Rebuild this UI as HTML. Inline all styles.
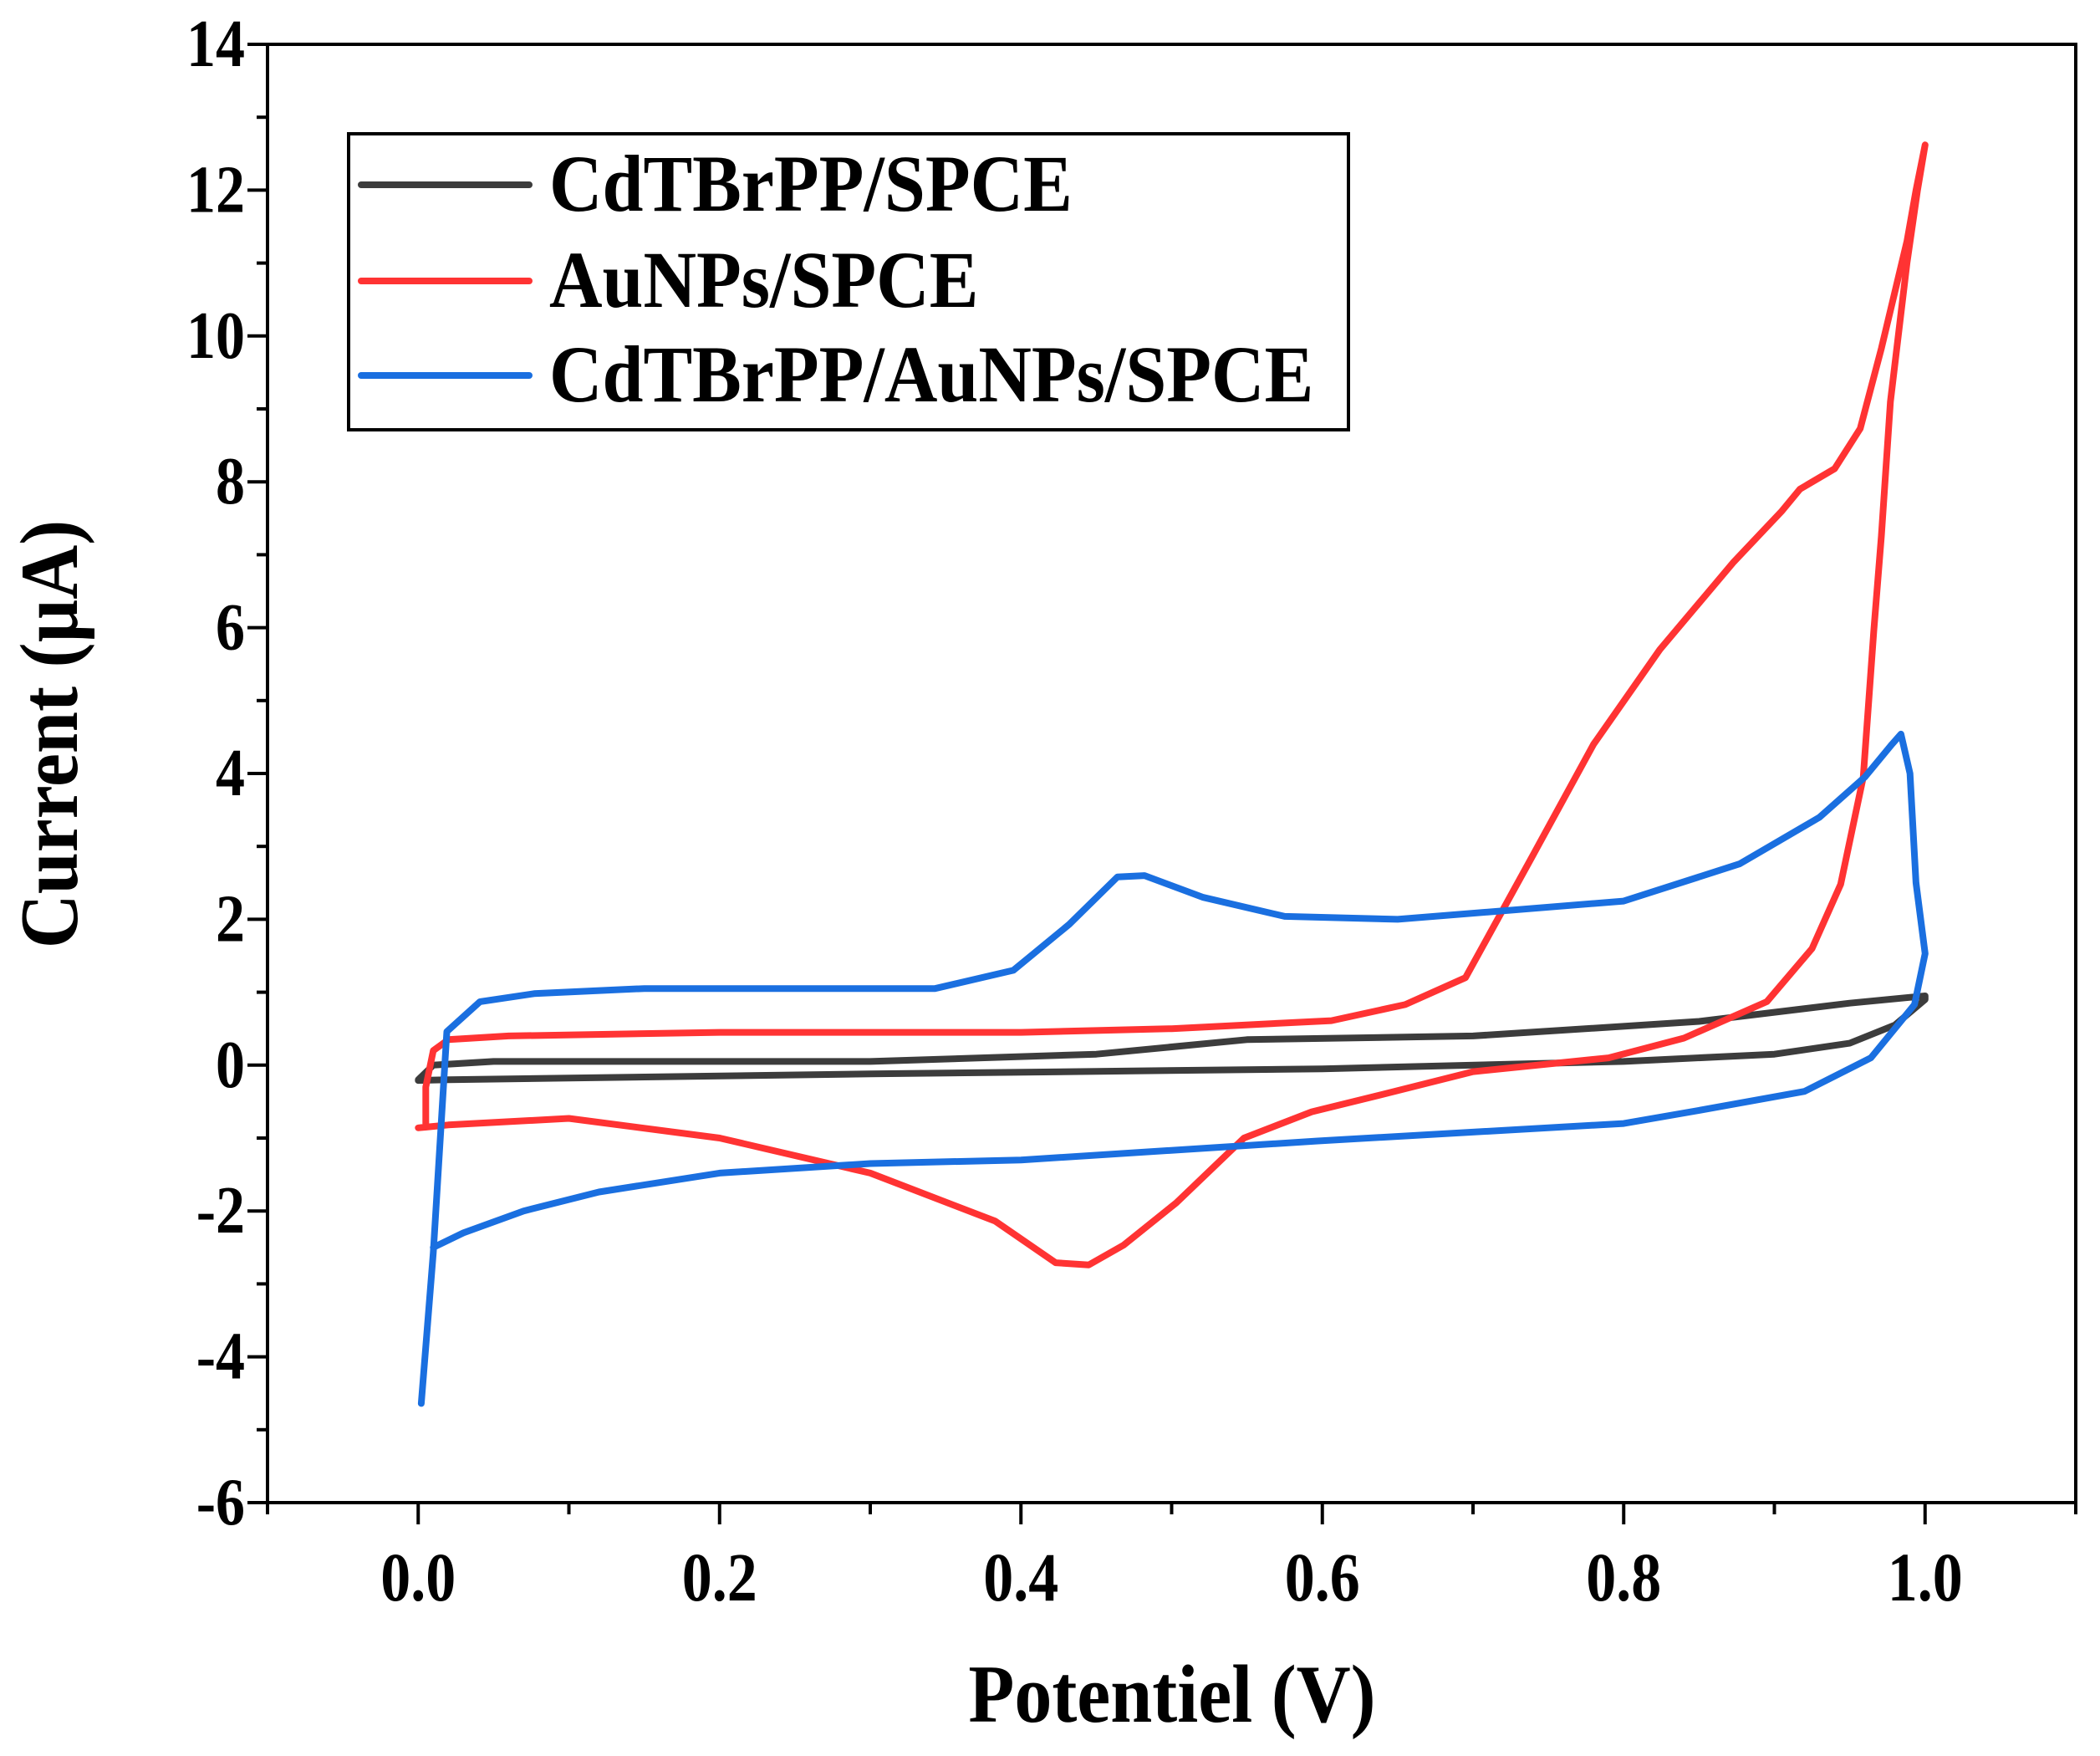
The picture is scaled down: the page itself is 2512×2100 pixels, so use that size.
<!DOCTYPE html>
<html><head><meta charset="utf-8">
<style>
html,body{margin:0;padding:0;background:#fff;}
svg{display:block;}
text{font-family:"Liberation Serif",serif;font-weight:bold;fill:#000;}
</style></head>
<body>
<svg id="chart" width="2512" height="2100" viewBox="0 0 2512 2100" xmlns="http://www.w3.org/2000/svg">
<g id="plot"></g>
</svg>
<script>
const xTicks = [0.0, 0.2, 0.4, 0.6, 0.8, 1.0];
const xTickLabels = ["0.0","0.2","0.4","0.6","0.8","1.0"];
const yTicks = [-6,-4,-2,0,2,4,6,8,10,12,14];
const yTickLabels = ["-6","-4","-2","0","2","4","6","8","10","12","14"];
const seriesNames = ["CdTBrPP/SPCE","AuNPs/SPCE","CdTBrPP/AuNPs/SPCE"];
const blackX = [0,0.02,0.3,0.6,0.8,0.9,0.95,0.98,1.0,1.0,0.95,0.85,0.7,0.55,0.45,0.3,0.05,0.01,0];
const blackY = [-0.21,-0.2,-0.12,-0.05,0.05,0.15,0.3,0.55,0.9,0.95,0.85,0.6,0.4,0.35,0.15,0.05,0.05,0.0,-0.2];
const redX = [0.0,0.02,0.1,0.2,0.3,0.383,0.423,0.445,0.468,0.503,0.548,0.593,0.65,0.70,0.79,0.84,0.895,0.925,0.944,0.959,0.966,0.971,0.977,0.988,0.995,1.0,0.994,0.988,0.971,0.957,0.94,0.917,0.905,0.873,0.824,0.78,0.739,0.695,0.655,0.606,0.5,0.4,0.2,0.06,0.02,0.01,0.005,0.005];
const redY = [-0.86,-0.82,-0.73,-1.0,-1.48,-2.14,-2.71,-2.74,-2.47,-1.89,-1.0,-0.64,-0.35,-0.09,0.1,0.37,0.87,1.6,2.48,3.95,5.97,7.26,9.1,11.0,12.0,12.62,12.0,11.3,9.83,8.73,8.18,7.9,7.6,6.9,5.7,4.4,2.85,1.2,0.83,0.61,0.5,0.45,0.45,0.4,0.35,0.2,-0.3,-0.8];
const blueX = [0.002,0.01,0.019,0.041,0.077,0.15,0.343,0.395,0.432,0.464,0.482,0.521,0.575,0.65,0.80,0.877,0.93,0.96,0.978,0.984,0.99,0.994,1.0,0.993,0.964,0.92,0.85,0.8,0.597,0.4,0.3,0.2,0.12,0.07,0.03,0.01];
const blueY = [-4.64,-2.57,0.46,0.87,0.98,1.05,1.05,1.3,1.93,2.58,2.6,2.3,2.04,2.0,2.25,2.76,3.4,3.95,4.4,4.54,4.0,2.5,1.53,0.83,0.1,-0.36,-0.62,-0.8,-1.04,-1.3,-1.35,-1.48,-1.74,-2.0,-2.3,-2.5];

const L=320,R=2483,T=53,B=1797;
const xMin=-0.1,xMax=1.1,yMin=-6,yMax=14;
const sx=v=>L+(v-xMin)/(xMax-xMin)*(R-L);
const sy=v=>B-(v-yMin)/(yMax-yMin)*(B-T);
const NS="http://www.w3.org/2000/svg";
const svg=document.getElementById('chart');
function mk(tag,attrs,parent){const e=document.createElementNS(NS,tag);for(const k in attrs)e.setAttribute(k,attrs[k]);(parent||svg).appendChild(e);return e;}

function drawSeries(xs,ys,color,name){
  let d='';xs.forEach((x,i)=>{d+=(i?'L':'M')+sx(x).toFixed(1)+' '+sy(ys[i]).toFixed(1);});
  const p=mk('path',{d:d,fill:'none',stroke:color,'stroke-width':8,'stroke-linejoin':'round','stroke-linecap':'round'});
  
  
}
drawSeries(blackX,blackY,'#3c3c3c','series-cdtbrpp-spce');
drawSeries(redX,redY,'#ff3333','series-aunps-spce');
drawSeries(blueX,blueY,'#1a6fe0','series-cdtbrpp-aunps-spce');

const fr=mk('rect',{x:L,y:T,width:R-L,height:B-T,fill:'none',stroke:'#000','stroke-width':4});



yTicks.forEach((v,i)=>{
  const t=mk('line',{x1:L-24,x2:L,y1:sy(v),y2:sy(v),stroke:'#000','stroke-width':4});
  
  
  if(i<yTicks.length-1){
    const m=mk('line',{x1:L-13,x2:L,y1:sy(v+1),y2:sy(v+1),stroke:'#000','stroke-width':4});
    
    
  }
  const tx=mk('text',{x:0,y:0,'font-size':70,'text-anchor':'end',transform:`translate(293 ${sy(v)+26}) scale(1 1.15)`});
  tx.textContent=yTickLabels[i];
  
  
});
xTicks.forEach((v,i)=>{
  const t=mk('line',{x1:sx(v),x2:sx(v),y1:B,y2:B+26,stroke:'#000','stroke-width':4});
  
  
  const tx=mk('text',{x:0,y:0,'font-size':72,'text-anchor':'middle',transform:`translate(${sx(v)} 1914) scale(1 1.15)`});
  tx.textContent=xTickLabels[i];
  
  
});
[-0.1,0.1,0.3,0.5,0.7,0.9,1.1].forEach(v=>{
  const m=mk('line',{x1:sx(v),x2:sx(v),y1:B,y2:B+14,stroke:'#000','stroke-width':4});
  
  
});

const xt=mk('text',{x:0,y:0,'font-size':90,'text-anchor':'middle',transform:'translate(1402 2059) scale(1 1.1)'});
xt.textContent='Potentiel (V)';


const yt=mk('text',{x:0,y:0,'font-size':90,'text-anchor':'middle',transform:'translate(92 878) rotate(-90) scale(1 1.1)'});
yt.textContent='Current (\u00b5A)';



const lg=mk('g',{});


mk('rect',{x:417,y:160,width:1196,height:354,fill:'#fff',stroke:'#000','stroke-width':4},lg);
const lc=['#3c3c3c','#ff3333','#1a6fe0'];
const ly=[221,336,449];
seriesNames.forEach((n,i)=>{
  const g=mk('g',{},lg);
  
  
  mk('line',{x1:432,x2:633,y1:ly[i],y2:ly[i],stroke:lc[i],'stroke-width':8,'stroke-linecap':'round'},g);
  const t=mk('text',{x:0,y:0,'font-size':88,transform:`translate(657 ${ly[i]+31}) scale(1 1.1)`},g);
  t.textContent=n;
});
</script>
</body></html>
